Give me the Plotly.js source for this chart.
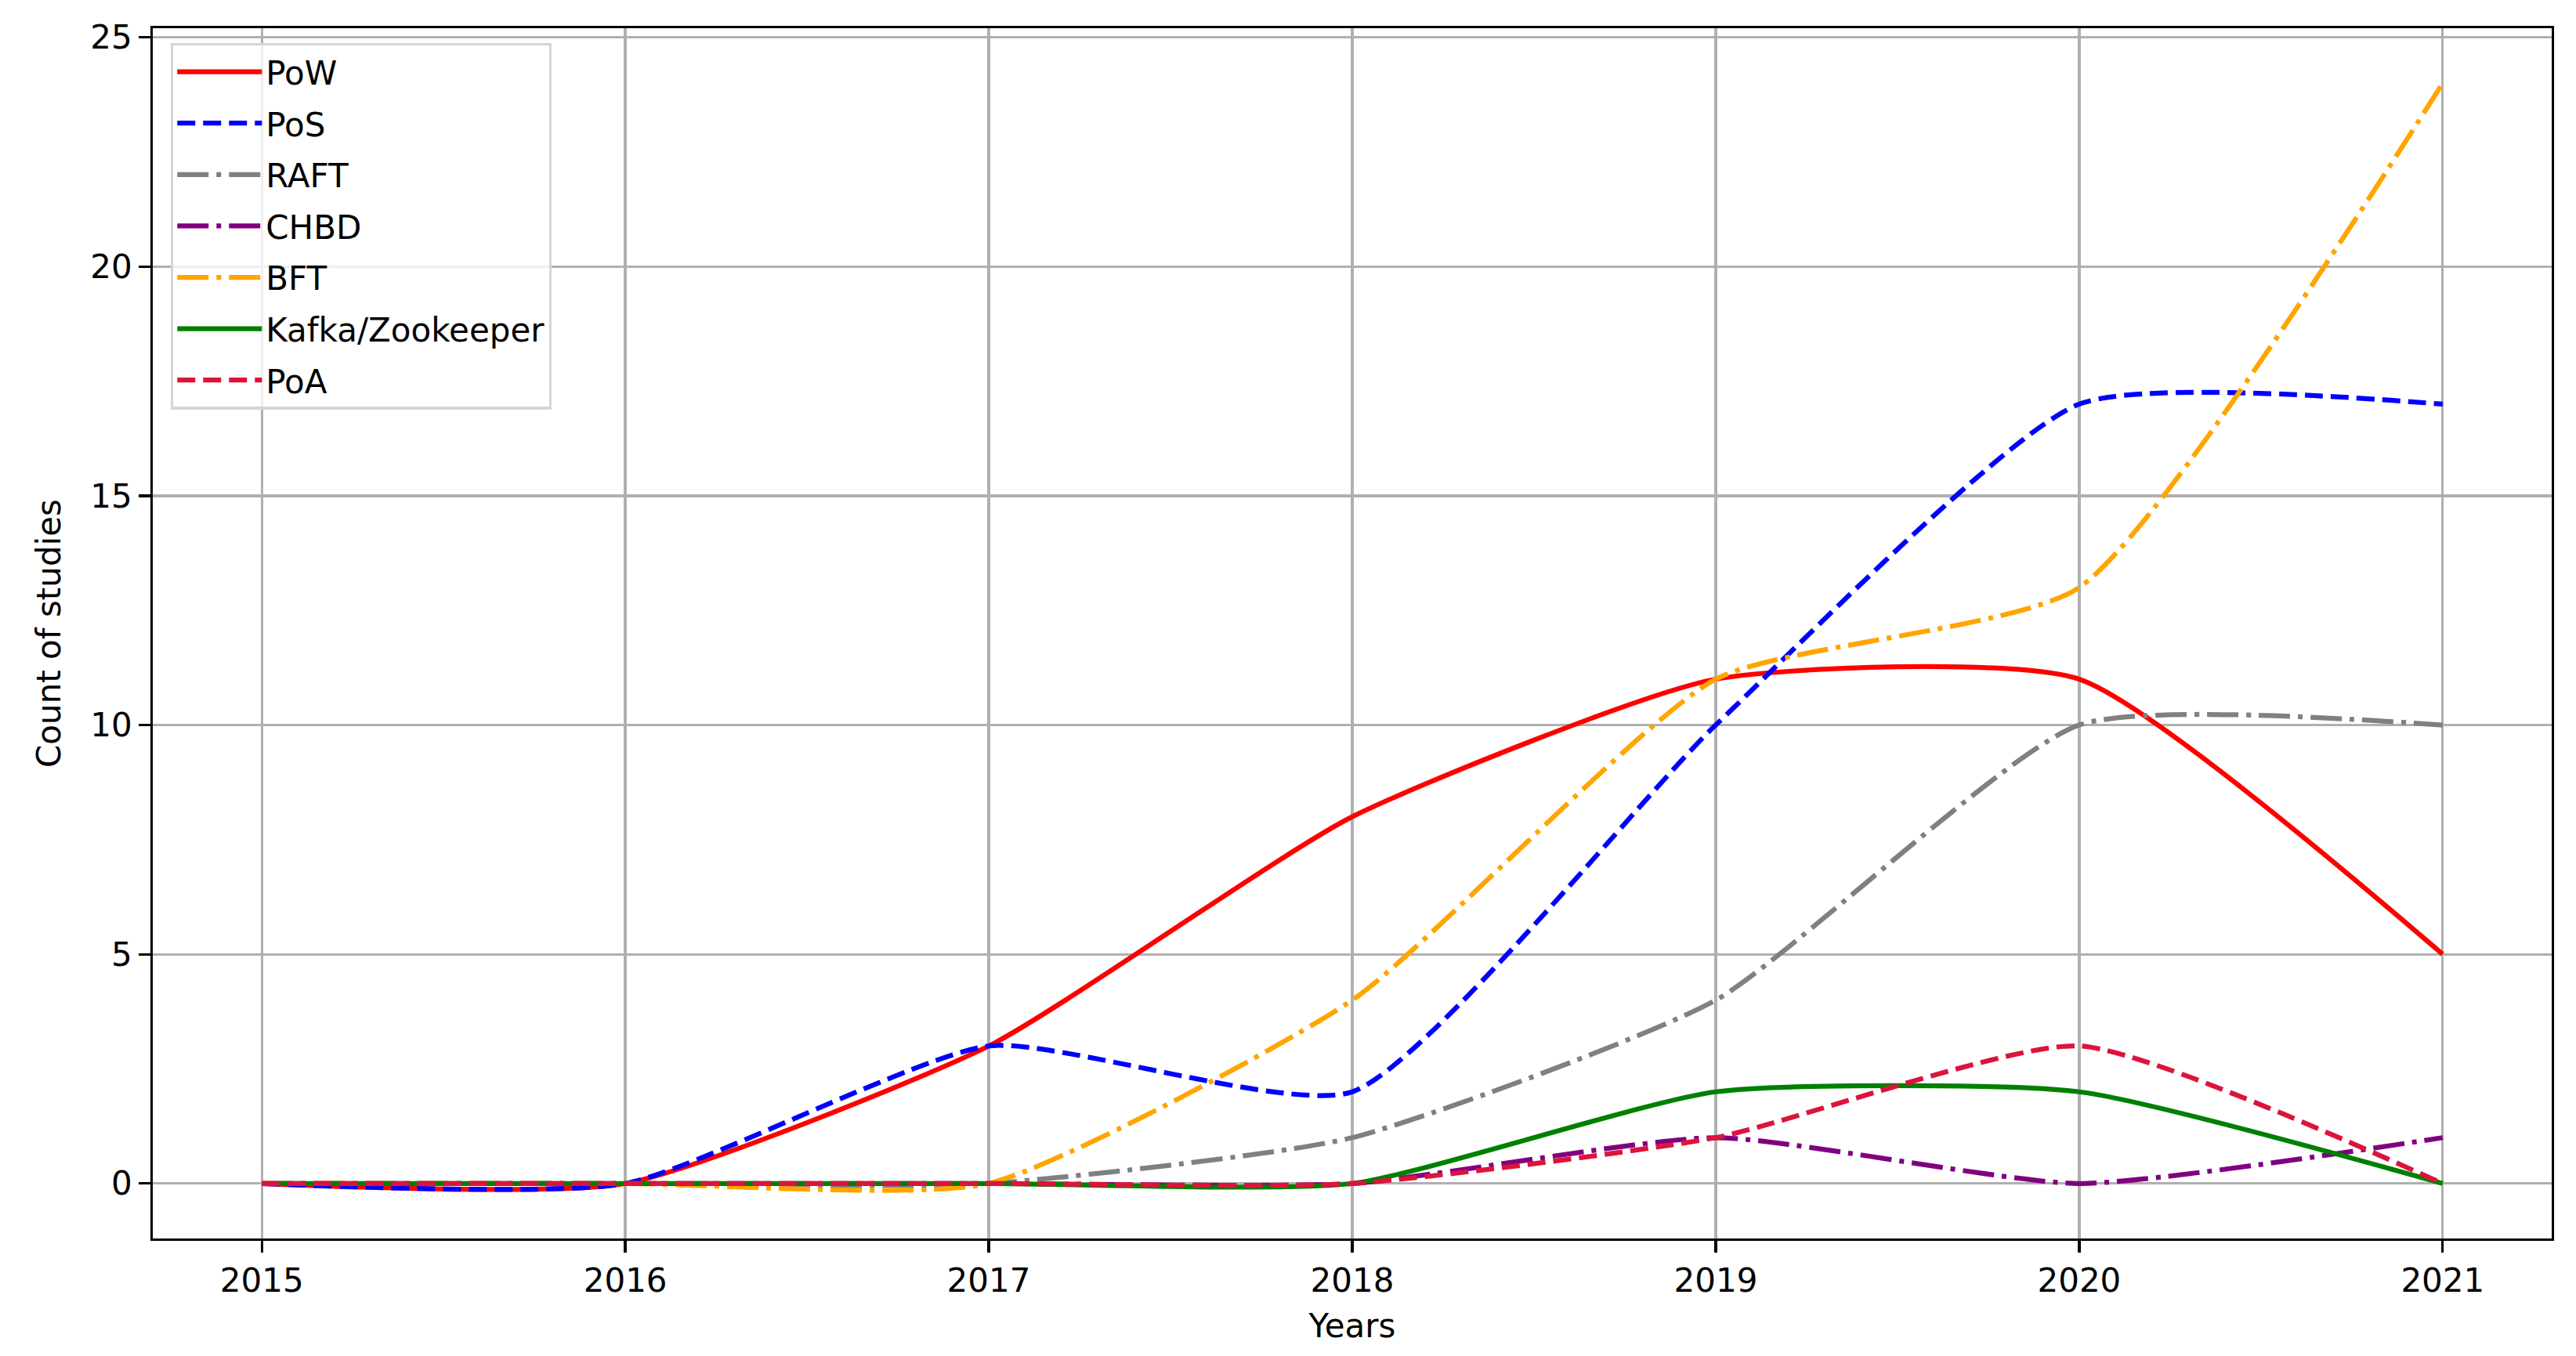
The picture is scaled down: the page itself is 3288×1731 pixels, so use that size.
<!DOCTYPE html>
<html>
<head>
<meta charset="utf-8">
<script src="https://cdn.plot.ly/plotly-3.0.1.min.js"></script>
<style>
  html, body { margin: 0; padding: 0; background: #fff; }
  #chart { width: 3288px; height: 1731px; }
</style>
</head>
<body>
<div id="chart"></div>
<script>
// years on the x axis
const years = [2015, 2016, 2017, 2018, 2019, 2020, 2021];

// count of studies per consensus algorithm
const pow   = [0, 0, 3, 8, 11, 11, 5];
const pos   = [0, 0, 3, 2, 10, 17, 17];
const raft  = [0, 0, 0, 1, 4, 10, 10];
const chbd  = [0, 0, 0, 0, 1, 0, 1];
const bft   = [0, 0, 0, 4, 11, 13, 24];
const kafka = [0, 0, 0, 0, 2, 2, 0];
const poa   = [0, 0, 0, 0, 1, 3, 0];

const lw = 6.25;
const dashed = '23px,10px';
const dashdot = '40px,10px,6px,10px';

function serie(name, y, color, dash) {
    return {
        x: years, y: y, name: name, legendgroup: name,
        type: 'scatter', mode: 'lines',
        line: { color: color, width: lw, dash: dash, shape: 'spline', smoothing: 0.55 }
    };
}

const traces = [
    serie('PoW', pow, 'red', 'solid'),
    serie('PoS', pos, 'blue', dashed),
    serie('RAFT', raft, 'gray', dashdot),
    serie('CHBD', chbd, 'purple', dashdot),
    serie('BFT', bft, 'orange', dashdot),
    serie('Kafka/Zookeeper', kafka, 'green', 'solid'),
    serie('PoA', poa, 'crimson', dashed)
];

const font = { family: 'DejaVu Sans', size: 42, color: '#000' };

const axisCommon = {
    showline: true, mirror: true, linecolor: '#000', linewidth: 3.3,
    ticks: 'outside', ticklen: 14.6, tickwidth: 3.3, tickcolor: '#000',
    showgrid: true, gridcolor: '#b0b0b0', gridwidth: 3.3,
    zeroline: false, tickfont: font
};

const layout = {
    width: 3288, height: 1731,
    margin: { l: 195, r: 31, t: 36, b: 150 },
    paper_bgcolor: '#fff', plot_bgcolor: '#fff',
    font: font,
    showlegend: true,
    legend: {
        x: 0.0075, y: 0.988, xanchor: 'left', yanchor: 'top',
        bgcolor: 'rgba(255,255,255,0.8)', bordercolor: '#d5d5d5', borderwidth: 3.3,
        font: font, tracegroupgap: 8, itemwidth: 108
    },
    xaxis: {
        ...axisCommon,
        range: [2014.7, 2021.3],
        tickvals: years,
        title: { text: 'Years', font: font, standoff: 20 }
    },
    yaxis: {
        ...axisCommon,
        range: [-1.2, 25.2],
        tickmode: 'linear', tick0: 0, dtick: 5,
        title: { text: 'Count of studies', font: font, standoff: 25 }
    }
};

Plotly.newPlot('chart', traces, layout, { staticPlot: true });
</script>
</body>
</html>
